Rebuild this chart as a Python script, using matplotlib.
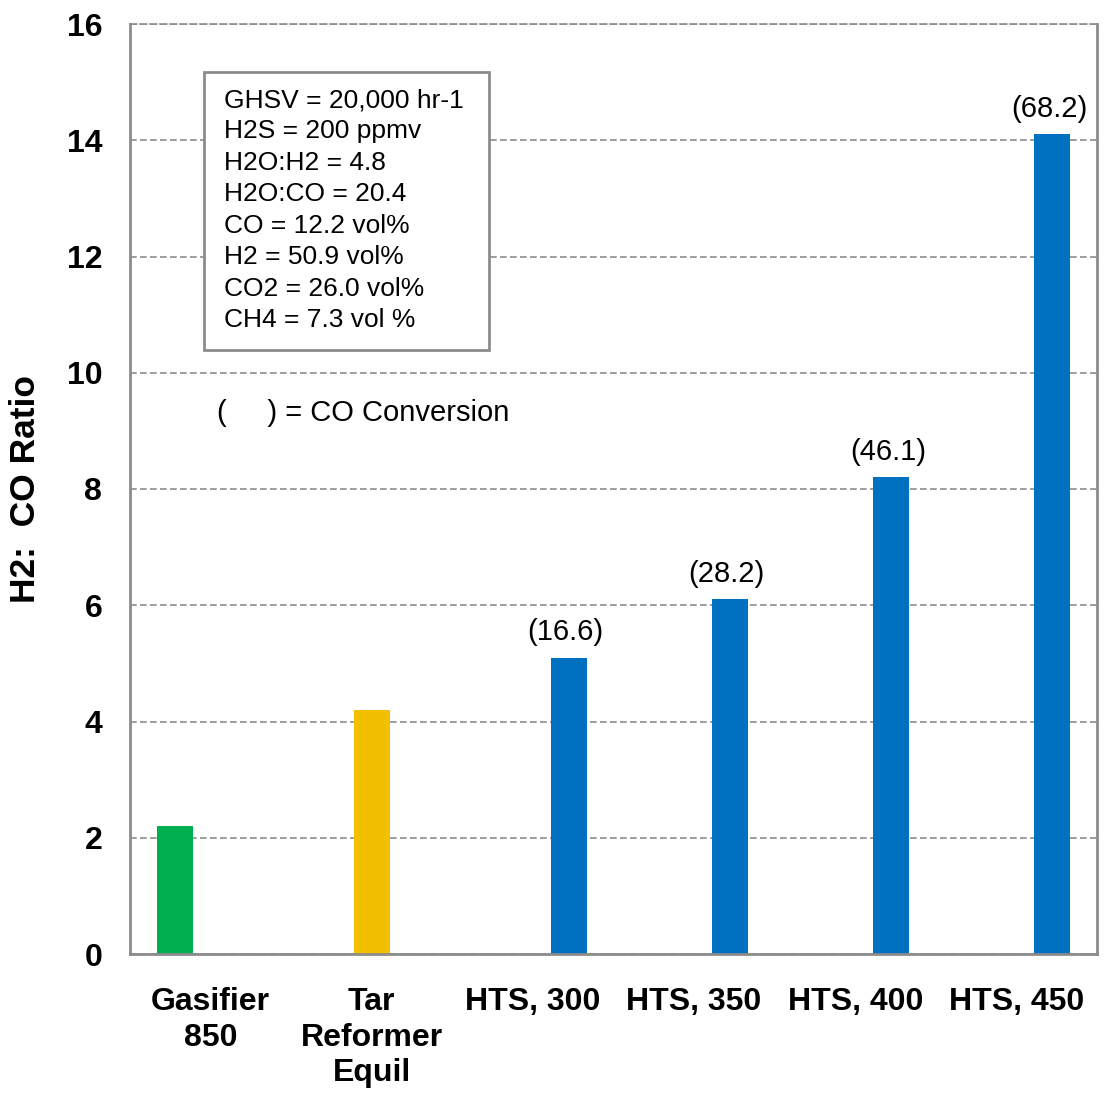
import numpy as np
import matplotlib
matplotlib.use("Agg")
import matplotlib.pyplot as plt
from matplotlib.patches import Rectangle

plt.rcParams['font.family'] = ['Liberation Sans', 'DejaVu Sans']

categories = ["Gasifier\n850", "Tar\nReformer\nEquil", "HTS, 300", "HTS, 350", "HTS, 400", "HTS, 450"]
gasifier = [2.2, np.nan, np.nan, np.nan, np.nan, np.nan]
reformer = [np.nan, 4.2, np.nan, np.nan, np.nan, np.nan]
hts = [np.nan, np.nan, 5.1, 6.1, 8.2, 14.1]
co_conversion = [None, None, "(16.6)", "(28.2)", "(46.1)", "(68.2)"]

conditions = ("GHSV = 20,000 hr-1\nH2S = 200 ppmv\nH2O:H2 = 4.8\nH2O:CO = 20.4\n"
              "CO = 12.2 vol%\nH2 = 50.9 vol%\nCO2 = 26.0 vol%\nCH4 = 7.3 vol %")

fig = plt.figure(figsize=(11.05, 10.95), dpi=100)
ax = fig.add_axes([130 / 1105, 141 / 1095, 967 / 1105, 930 / 1095])

x = np.arange(len(categories))
w = 0.222
ax.bar(x - w, gasifier, w, color="#00B050")
ax.bar(x, reformer, w, color="#F2C000")
hb = ax.bar(x + w, hts, w, color="#0070C0")

# CO conversion above each HTS bar
for rect, lab in zip(hb, co_conversion):
    if lab is None:
        continue
    ax.annotate(lab, (rect.get_x() + rect.get_width() / 2 - 0.02, rect.get_height()),
                xytext=(0, 8), textcoords="offset points",
                ha="center", va="bottom", fontsize=21)

ax.set_xlim(-0.5, len(categories) - 0.5)
ax.set_ylim(0, 16)
ax.set_yticks(np.arange(0, 17, 2))
ax.set_xticks(x)
ax.set_xticklabels(categories, fontsize=23, fontweight="bold", linespacing=1.23)
ax.tick_params(axis="y", labelsize=23, length=0, pad=20)
ax.tick_params(axis="x", length=0, pad=24)
for t in ax.get_yticklabels():
    t.set_fontweight("bold")

ax.set_ylabel("H2:  CO Ratio", fontsize=25.5, fontweight="bold")
ax.yaxis.set_label_coords(-88 / 967, 0.5)

ax.yaxis.grid(True, linestyle=(0, (4, 2)), color="#8c8c8c", linewidth=1.2)
ax.set_axisbelow(True)
for s in ax.spines.values():
    s.set_color("#8c8c8c")
    s.set_linewidth(2)
ax.spines["top"].set_linestyle((0, (4, 2)))
ax.spines["top"].set_linewidth(1.2)

# conditions box
ax.add_patch(Rectangle((0.0765, 0.649), 0.2945, 0.299, transform=ax.transAxes,
                       facecolor="white", edgecolor="#8c8c8c", linewidth=2, zorder=3))
ax.text(0.0972, 0.8, conditions, transform=ax.transAxes, ha="left", va="center",
        fontsize=19, linespacing=1.39, zorder=4)
ax.text(0.09, 0.582, "(     ) = CO Conversion", transform=ax.transAxes,
        ha="left", va="center", fontsize=21)

fig.savefig("out.png", dpi=100)
